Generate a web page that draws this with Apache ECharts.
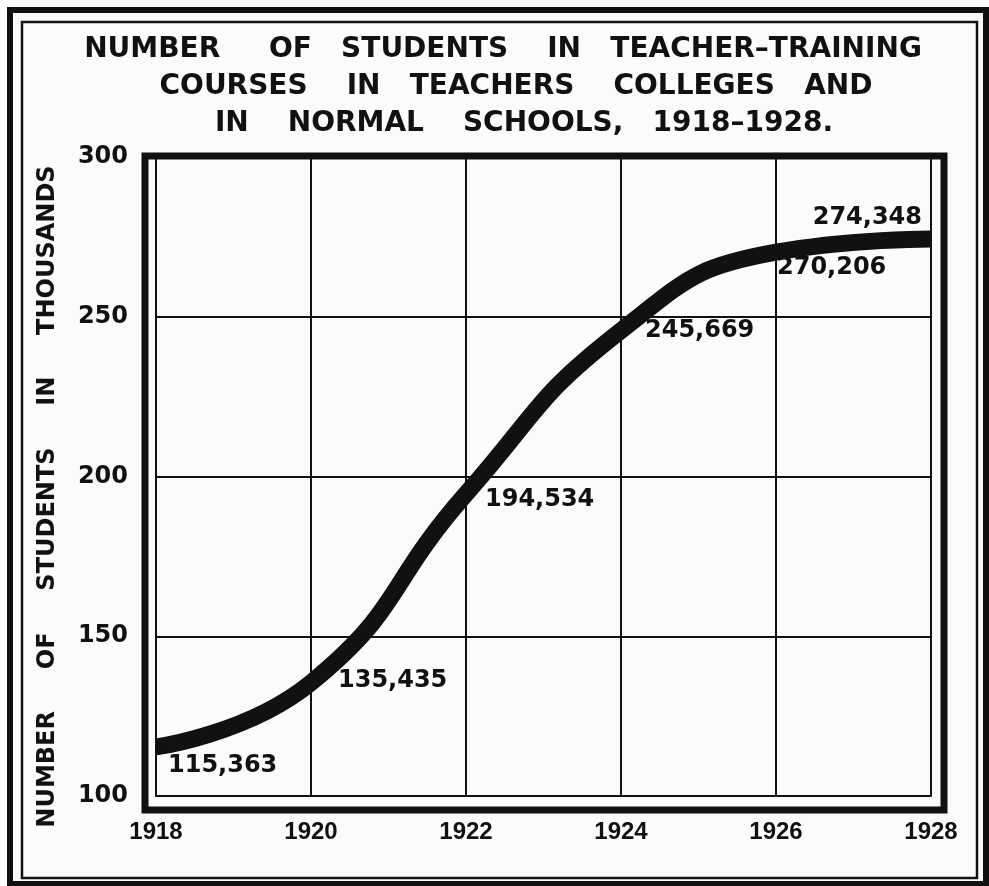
<!DOCTYPE html>
<html>
<head>
<meta charset="utf-8">
<script src="https://cdn.jsdelivr.net/npm/echarts@6/dist/echarts.min.js"></script>
<style>
  html, body { margin: 0; padding: 0; background: #fbfbfb; }
  #chart { width: 989px; height: 886px; }
</style>
</head>
<body>
<div id="chart"></div>
<script>
// years on the x axis (every second year)
const years = ['1918', '1920', '1922', '1924', '1926', '1928'];
// students in teacher-training courses, in thousands
const students = [115.363, 135.435, 194.534, 245.669, 270.206, 274.348];
// y axis range (thousands)
const yMin = 100;
const yMax = 300;
const yStep = 50;

const titleLines = [
  'NUMBER     OF   STUDENTS    IN   TEACHER\u2013TRAINING',
  'COURSES    IN   TEACHERS    COLLEGES   AND',
  'IN    NORMAL    SCHOOLS,   1918\u20131928.'
];

const ink = '#111';
const font = 'DejaVu Sans';

// where each value label sits relative to its point
const labelPlace = [
  { position: 'right', offset: [11, 19] },
  { position: 'right', offset: [26, -2] },
  { position: 'right', offset: [18, 6] },
  { position: 'right', offset: [23, 0] },
  { position: 'right', offset: [0, 16] },
  { position: 'left', offset: [-8, -21] }
];

const chart = echarts.init(document.getElementById('chart'));

const seriesData = students.map((v, i) => ({
  value: v,
  label: {
    show: true,
    position: labelPlace[i].position,
    offset: labelPlace[i].offset,
    distance: 0
  }
}));

const titleY = [50, 87, 124];
const titleX = [503, 516, 524];

const option = {
  backgroundColor: '#fbfbfb',
  animation: false,
  grid: { left: 156, right: 58, top: 157, bottom: 90, containLabel: false },
  xAxis: {
    type: 'category',
    data: years,
    boundaryGap: false,
    axisLine: { show: true, lineStyle: { color: ink, width: 2 } },
    axisTick: { show: false },
    axisLabel: {
      color: ink, fontFamily: 'Liberation Sans', fontWeight: 'bold', fontSize: 24, margin: 24
    },
    splitLine: { show: true, lineStyle: { color: ink, width: 2 } }
  },
  yAxis: {
    type: 'value',
    min: yMin,
    max: yMax,
    interval: yStep,
    name: 'NUMBER     OF     STUDENTS     IN     THOUSANDS',
    nameLocation: 'middle',
    nameGap: 96,
    nameRotate: 90,
    nameTextStyle: {
      color: ink, fontFamily: font, fontWeight: 'bold', fontSize: 24,
      padding: [0, 40, 0, 0]
    },
    axisLine: { show: true, lineStyle: { color: ink, width: 2 } },
    axisTick: { show: false },
    axisLabel: {
      color: ink, fontFamily: font, fontWeight: 'bold', fontSize: 24, margin: 28
    },
    splitLine: { show: true, lineStyle: { color: ink, width: 2 } }
  },
  series: [{
    type: 'line',
    data: seriesData,
    smooth: 0.5,
    symbol: 'circle',
    symbolSize: 2,
    itemStyle: { color: ink },
    lineStyle: { color: ink, width: 17, cap: 'butt' },
    label: {
      color: ink,
      fontFamily: font,
      fontWeight: 'bold',
      fontSize: 24,
      formatter: p => Math.round(p.value * 1000).toLocaleString('en-US')
    },
    z: 3
  }],
  graphic: [
    // double outer border
    { type: 'rect', z: 10, shape: { x: 10, y: 10, width: 976, height: 874 },
      style: { fill: null, stroke: ink, lineWidth: 6 } },
    { type: 'rect', z: 10, shape: { x: 22, y: 22, width: 955, height: 856 },
      style: { fill: null, stroke: ink, lineWidth: 2.5 } },
    // heavy frame round the plot
    { type: 'rect', z: 10, shape: { x: 145, y: 156, width: 799, height: 654 },
      style: { fill: null, stroke: ink, lineWidth: 7 } }
  ].concat(titleLines.map((t, i) => ({
    type: 'text', z: 10,
    style: {
      text: t, x: titleX[i], y: titleY[i],
      textAlign: 'center', textVerticalAlign: 'middle',
      fill: ink, font: 'bold 28px "DejaVu Sans"'
    }
  })))
};

chart.setOption(option);
</script>
</body>
</html>
